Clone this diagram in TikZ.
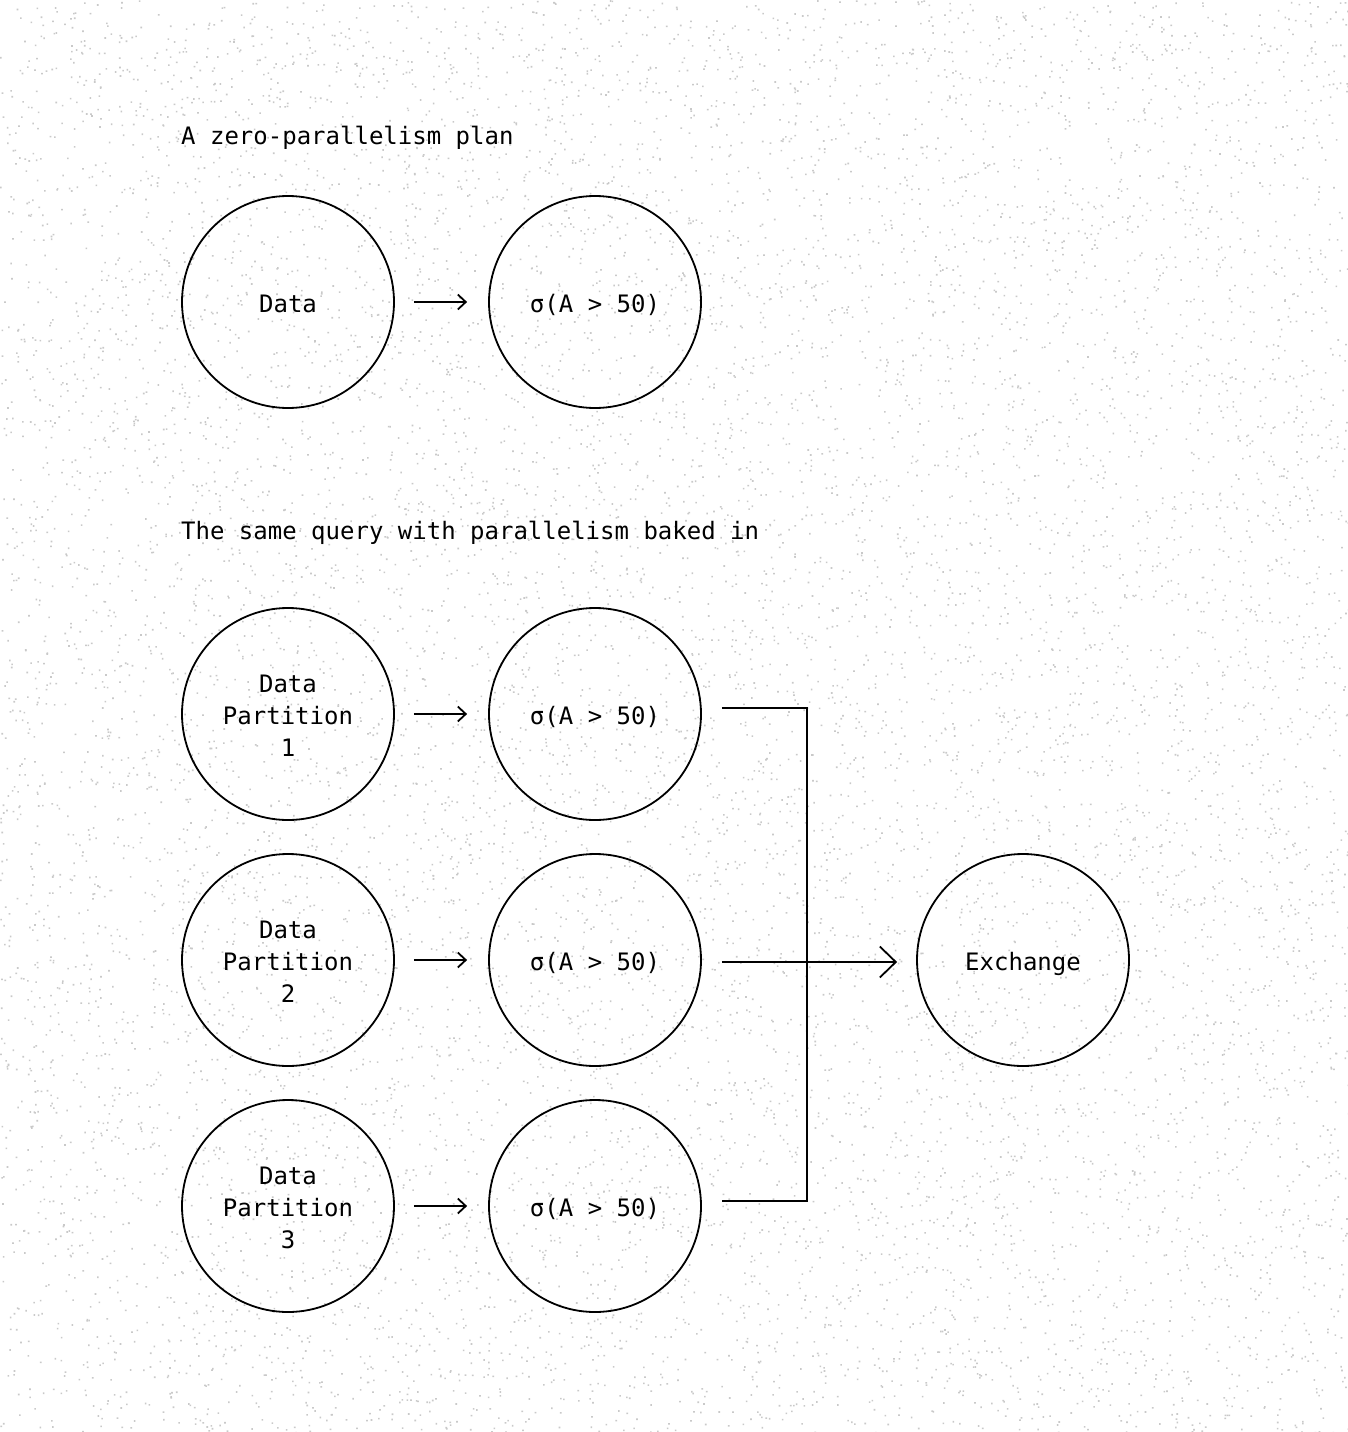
\documentclass[tikz,border=0pt]{standalone}
\usepackage{fontspec}
\setmonofont{DejaVu Sans Mono}
\usetikzlibrary{arrows.meta}
\newcommand\lowtext[1]{\raisebox{-10.3pt}[0pt][0pt]{\begin{tabular}{@{}c@{}}#1\end{tabular}}}
\begin{document}
\begin{tikzpicture}[x=1pt,y=-1pt,
  op/.style={circle, draw, line width=1.8pt, minimum size=212pt, inner sep=0pt,
    font=\ttfamily\fontsize{24}{32}\selectfont},
  lbl/.style={anchor=base west, inner sep=0pt, font=\ttfamily\fontsize{24}{32}\selectfont},
  arr/.style={-{Straight Barb[length=8pt,width=15pt]}, line width=1.8pt},
  bigarr/.style={-{Straight Barb[length=16pt,width=31pt]}, line width=1.8pt},
  conn/.style={line width=1.8pt, line join=miter}]
\fill[white] (0,0) rectangle (1348,1432);
\useasboundingbox (0,0) rectangle (1348,1432);
\pgfmathsetseed{7}
\foreach \k in {1,...,40}{
  \fill[black!21] \foreach \i in {1,...,300}{ ({rnd*1348},{rnd*1432}) rectangle ++(1.6,1.6) };
}

\node[lbl] (t1) at (181,144) {A zero-parallelism plan};
\node[lbl] (t2) at (181,539) {The same query with parallelism baked in};

\node[op] (d0) at (288,302) {\lowtext{Data}};
\node[op] (s0) at (595,302) {\lowtext{σ(A > 50)}};
\draw[arr] ([xshift=19pt]d0.east) -- ([xshift=-21pt]s0.west);

\node[op] (d1) at (288,714) {\lowtext{Data\\Partition\\1}};
\node[op] (s1) at (595,714) {\lowtext{σ(A > 50)}};
\node[op] (d2) at (288,960) {\lowtext{Data\\Partition\\2}};
\node[op] (s2) at (595,960) {\lowtext{σ(A > 50)}};
\node[op] (d3) at (288,1206) {\lowtext{Data\\Partition\\3}};
\node[op] (s3) at (595,1206) {\lowtext{σ(A > 50)}};
\node[op] (ex) at (1023,960) {\lowtext{Exchange}};

\draw[arr] ([xshift=19pt]d1.east) -- ([xshift=-21pt]s1.west);
\draw[arr] ([xshift=19pt]d2.east) -- ([xshift=-21pt]s2.west);
\draw[arr] ([xshift=19pt]d3.east) -- ([xshift=-21pt]s3.west);

\coordinate (bt) at (807,708);
\coordinate (bb) at (807,1201);
\draw[conn] ([xshift=20pt,yshift=6pt]s1.east) -- (bt) -- (bb) -- ([xshift=20pt,yshift=5pt]s3.east);
\draw[bigarr] ([xshift=20pt,yshift=-2pt]s2.east) -- ([xshift=-19pt,yshift=-2pt]ex.west);
\end{tikzpicture}
\end{document}
